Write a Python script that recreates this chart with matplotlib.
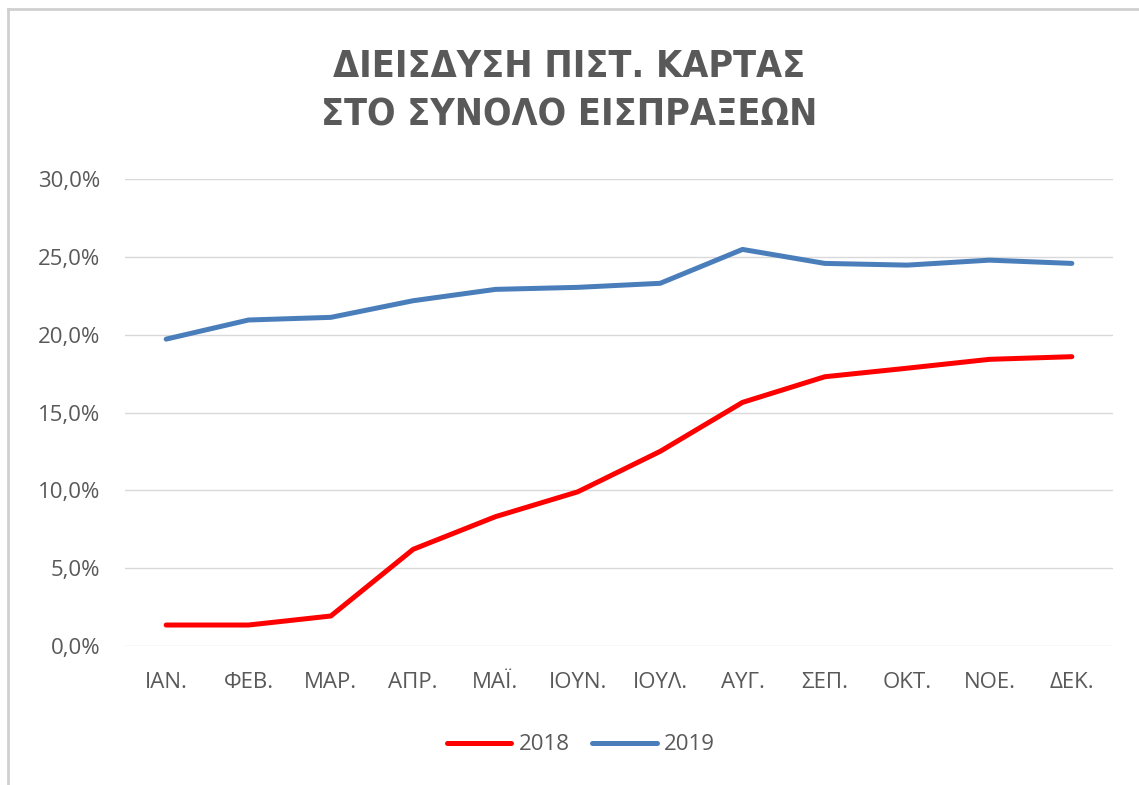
import matplotlib
matplotlib.use("Agg")
import matplotlib.pyplot as plt
from matplotlib.ticker import FuncFormatter, MultipleLocator
from matplotlib.lines import Line2D

months = ["ΙΑΝ.", "ΦΕΒ.", "ΜΑΡ.", "ΑΠΡ.", "ΜΑΪ.", "ΙΟΥΝ.",
          "ΙΟΥΛ.", "ΑΥΓ.", "ΣΕΠ.", "ΟΚΤ.", "ΝΟΕ.", "ΔΕΚ."]
pct_2018 = [1.33, 1.33, 1.91, 6.20, 8.30, 9.90, 12.50, 15.65, 17.30, 17.85, 18.42, 18.59]
pct_2019 = [19.72, 20.95, 21.12, 22.19, 22.92, 23.05, 23.31, 25.49, 24.59, 24.48, 24.80, 24.59]
title = "ΔΙΕΙΣΔΥΣΗ ΠΙΣΤ. ΚΑΡΤΑΣ\nΣΤΟ ΣΥΝΟΛΟ ΕΙΣΠΡΑΞΕΩΝ"

plt.rcParams['font.family'] = ['Open Sans', 'DejaVu Sans']
TXT = "#595959"
FS = 16

fig = plt.figure(figsize=(11.39, 7.85), dpi=100)
ax = fig.add_axes([125/1139, 1 - 645.7/785, 988/1139, (645.7 - 179.3)/785])

x = range(len(months))
ax.plot(x, pct_2018, color="#FF0000", lw=3.6, solid_capstyle="round",
        solid_joinstyle="round", label="2018")
ax.plot(x, pct_2019, color="#4A7EBB", lw=3.6, solid_capstyle="round",
        solid_joinstyle="round", label="2019")

ax.set_xlim(-0.5, len(months) - 0.5)
ax.set_ylim(0, 30)
ax.yaxis.set_major_locator(MultipleLocator(5))
ax.yaxis.set_major_formatter(FuncFormatter(lambda v, p: f"{v:.1f}%".replace(".", ",")))
ax.set_xticks(list(x))
ax.set_xticklabels(months)
ax.grid(axis="y", color="#D9D9D9", lw=1)
ax.set_axisbelow(True)
for s in ax.spines.values():
    s.set_visible(False)
ax.tick_params(length=0, colors=TXT, labelsize=FS)
ax.tick_params(axis="y", pad=18)
ax.tick_params(axis="x", pad=19)

fig.text(0.5, 1 - 91/785, title, ha="center", va="center", fontsize=27,
         fontweight="bold", fontstretch="condensed", color=TXT, linespacing=1.45,
         family=['DejaVu Sans'])

leg = fig.legend(loc="center", bbox_to_anchor=(581/1139, 1 - 745/785), ncol=2,
                 frameon=False, fontsize=FS, handlelength=2.9, handletextpad=0.35,
                 columnspacing=1.0)
for t in leg.get_texts():
    t.set_color(TXT)

# chart frame (top and left edges visible in the screenshot)
fig.add_artist(Line2D([8/1139, 1], [1 - 9/785, 1 - 9/785], color="#D0D0D0", lw=2))
fig.add_artist(Line2D([8/1139, 8/1139], [0, 1 - 9/785], color="#D0D0D0", lw=2))

fig.savefig("out.png", dpi=100)
